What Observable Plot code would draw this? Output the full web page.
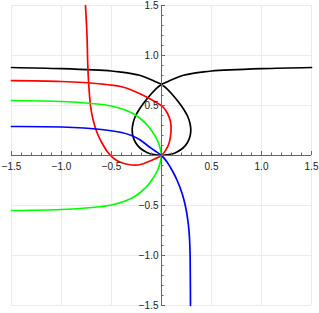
<!DOCTYPE html>
<html>
<head>
<meta charset="utf-8">
<script src="https://cdn.jsdelivr.net/npm/d3@7"></script>
<script src="https://cdn.jsdelivr.net/npm/@observablehq/plot@0.6"></script>
<style>
  html, body { margin: 0; padding: 0; background: white; }
</style>
</head>
<body>
<div id="chart"></div>
<script>
// Tick values and labels
const majorTicks = [-1.5, -1.0, -0.5, 0.5, 1.0, 1.5];
const tickLabels = ["\u22121.5", "\u22121.0", "\u22120.5", "0.5", "1.0", "1.5"];
const minorTicks = [-1.4,-1.3,-1.2,-1.1,-0.9,-0.8,-0.7,-0.6,-0.4,-0.3,-0.2,-0.1,0.1,0.2,0.3,0.4,0.6,0.7,0.8,0.9,1.1,1.2,1.3,1.4];

// Curves, [x, y]
const blackCurve = [
  [-1.5,0.88],[-1.0,0.868],[-0.5,0.845],[-0.4,0.833],[-0.3,0.818],[-0.22,0.802],[-0.15,0.778],[-0.09,0.752],[-0.04,0.73],[0,0.71],
  [0.05,0.672],[0.11,0.608],[0.17,0.535],[0.22,0.465],[0.26,0.395],[0.284,0.325],[0.293,0.26],[0.286,0.195],[0.26,0.13],[0.215,0.075],[0.15,0.033],[0.075,0.008],[0,0],
  [-0.075,0.008],[-0.15,0.033],[-0.215,0.075],[-0.26,0.13],[-0.286,0.195],[-0.293,0.26],[-0.284,0.325],[-0.26,0.395],[-0.22,0.465],[-0.17,0.535],[-0.11,0.608],[-0.05,0.672],[0,0.71],
  [0.04,0.73],[0.09,0.752],[0.15,0.778],[0.22,0.802],[0.3,0.818],[0.4,0.833],[0.5,0.845],[1.0,0.868],[1.5,0.88]
];
const redCurve = [
  [-0.76,1.5],[-0.745,1.2],[-0.737,0.9],[-0.727,0.7],[-0.71,0.5],[-0.685,0.36],[-0.645,0.23],[-0.595,0.125],[-0.535,0.03],
  [-0.47,-0.035],[-0.41,-0.068],[-0.33,-0.09],[-0.27,-0.097],[-0.2,-0.088],[-0.14,-0.065],[-0.07,-0.035],[0,0],
  [0.04,0.05],[0.075,0.12],[0.095,0.24],[0.09,0.34],[0.06,0.42],[0.02,0.48],[-0.06,0.535],[-0.14,0.58],[-0.21,0.615],
  [-0.3,0.655],[-0.41,0.69],[-0.6,0.715],[-1.0,0.74],[-1.5,0.748]
];
const greenCurve = [
  [-1.5,0.55],[-1.0,0.54],[-0.7,0.52],[-0.5,0.495],[-0.35,0.45],[-0.26,0.405],[-0.2,0.36],[-0.13,0.29],[-0.08,0.22],[-0.04,0.15],[-0.01,0.06],
  [0,0],
  [-0.01,-0.06],[-0.04,-0.15],[-0.08,-0.22],[-0.13,-0.29],[-0.2,-0.36],[-0.26,-0.405],[-0.35,-0.45],[-0.5,-0.495],[-0.7,-0.52],[-1.0,-0.54],[-1.5,-0.55]
];
const blueCurve = [
  [-1.5,0.29],[-1.0,0.285],[-0.6,0.26],[-0.4,0.23],[-0.3,0.2],[-0.22,0.16],[-0.14,0.1],[-0.07,0.05],[0,0],
  [0.057,-0.067],[0.107,-0.15],[0.157,-0.25],[0.207,-0.383],[0.24,-0.51],[0.263,-0.645],[0.277,-0.78],[0.285,-0.95],[0.288,-1.2],[0.29,-1.5]
];

const curves = [
  {pts: blackCurve, color: "#000000"},
  {pts: redCurve, color: "#ff0000"},
  {pts: greenCurve, color: "#00ff00"},
  {pts: blueCurve, color: "#0000ff"}
];

const axisColor = "#666666";
const gridColor = "#ebebeb";

const marks = [
  Plot.ruleX(majorTicks, {stroke: gridColor, strokeWidth: 1}),
  Plot.ruleY(majorTicks, {stroke: gridColor, strokeWidth: 1}),
  ...curves.map(c => Plot.line(c.pts, {x: d => d[0], y: d => d[1], stroke: c.color, strokeWidth: 1.7, curve: "catmull-rom"})),
  // axes
  Plot.ruleY([0], {stroke: axisColor, strokeWidth: 1}),
  Plot.ruleX([0], {stroke: axisColor, strokeWidth: 1}),
  // x-axis ticks (pointing up)
  Plot.ruleX(majorTicks, {x: d => d, y1: 0, y2: 0.04, stroke: axisColor}),
  Plot.ruleX(minorTicks, {x: d => d, y1: 0, y2: 0.025, stroke: axisColor}),
  // y-axis ticks (pointing right)
  Plot.ruleY(majorTicks, {y: d => d, x1: 0, x2: 0.04, stroke: axisColor}),
  Plot.ruleY(minorTicks, {y: d => d, x1: 0, x2: 0.025, stroke: axisColor}),
  // labels
  Plot.text(majorTicks, {x: d => d, y: 0, text: (d, i) => tickLabels[i], dy: 11, fill: "#222", textAnchor: "middle"}),
  Plot.text(majorTicks, {x: 0, y: d => d, text: (d, i) => tickLabels[i], dx: -3, fill: "#222", textAnchor: "end"})
];

const chart = Plot.plot({
  width: 319,
  height: 313,
  marginLeft: 11,
  marginRight: 8,
  marginTop: 5,
  marginBottom: 8,
  x: {domain: [-1.5, 1.5], axis: null},
  y: {domain: [-1.5, 1.5], axis: null},
  style: {fontFamily: "'Liberation Sans', Arial, sans-serif", fontSize: "10px", background: "white", overflow: "visible"},
  marks
});
document.getElementById("chart").appendChild(chart);
</script>
</body>
</html>
